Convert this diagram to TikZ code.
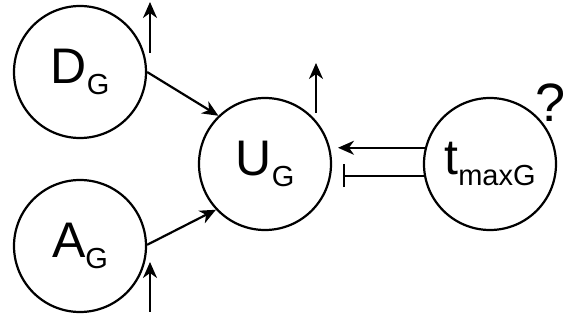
\documentclass[tikz,border=0pt]{standalone}
\usepackage{fontspec}
\setmainfont{Liberation Sans}
\usetikzlibrary{arrows.meta}
\newcommand{\bigtxt}{\fontsize{50}{50}\selectfont}
\newcommand{\subtxt}{\fontsize{29}{29}\selectfont}
\newcommand{\lbl}[2]{{\bigtxt #1}\raisebox{-11pt}{\subtxt #2}}
\tikzset{
  var/.style={draw, circle, line width=2.2pt, minimum size=132pt, inner sep=0pt},
  arr/.style={line width=2.2pt, -{Stealth[length=16pt,width=14pt,inset=5pt]}},
  inh/.style={line width=2.2pt, -{Bar[width=23pt]}}
}
\begin{document}
\begin{tikzpicture}[x=1pt,y=-1pt]
\useasboundingbox (0,0) rectangle (573,320);
\node[var] (D) at (80,72) {\lbl{D}{G}};
\node[var] (A) at (80,246) {\lbl{A}{G}};
\node[var] (U) at (265,164) {\lbl{U}{G}};
\node[var] (T) at (490,164) {\lbl{t}{maxG}};
\node (q) at (551,103) {\fontsize{54}{54}\selectfont ?};
\draw[arr] (D.0) -- (U.134);
\draw[arr] (A.1) -- (U.223);
\coordinate (tipA) at (338,148);
\coordinate (tipB) at (343,176);
\draw[arr] (T.166) -- (T.166 -| tipA);
\draw[inh] (T.190.5) -- (T.190.5 -| tipB);
\coordinate (d0) at (150,53);
\coordinate (d1) at (150,2);
\coordinate (u0) at (316,113);
\coordinate (u1) at (316,63);
\coordinate (a0) at (150,312);
\coordinate (a1) at (150,262);
\draw[arr] (d0) -- (d1);
\draw[arr] (u0) -- (u1);
\draw[arr] (a0) -- (a1);
\end{tikzpicture}
\end{document}
